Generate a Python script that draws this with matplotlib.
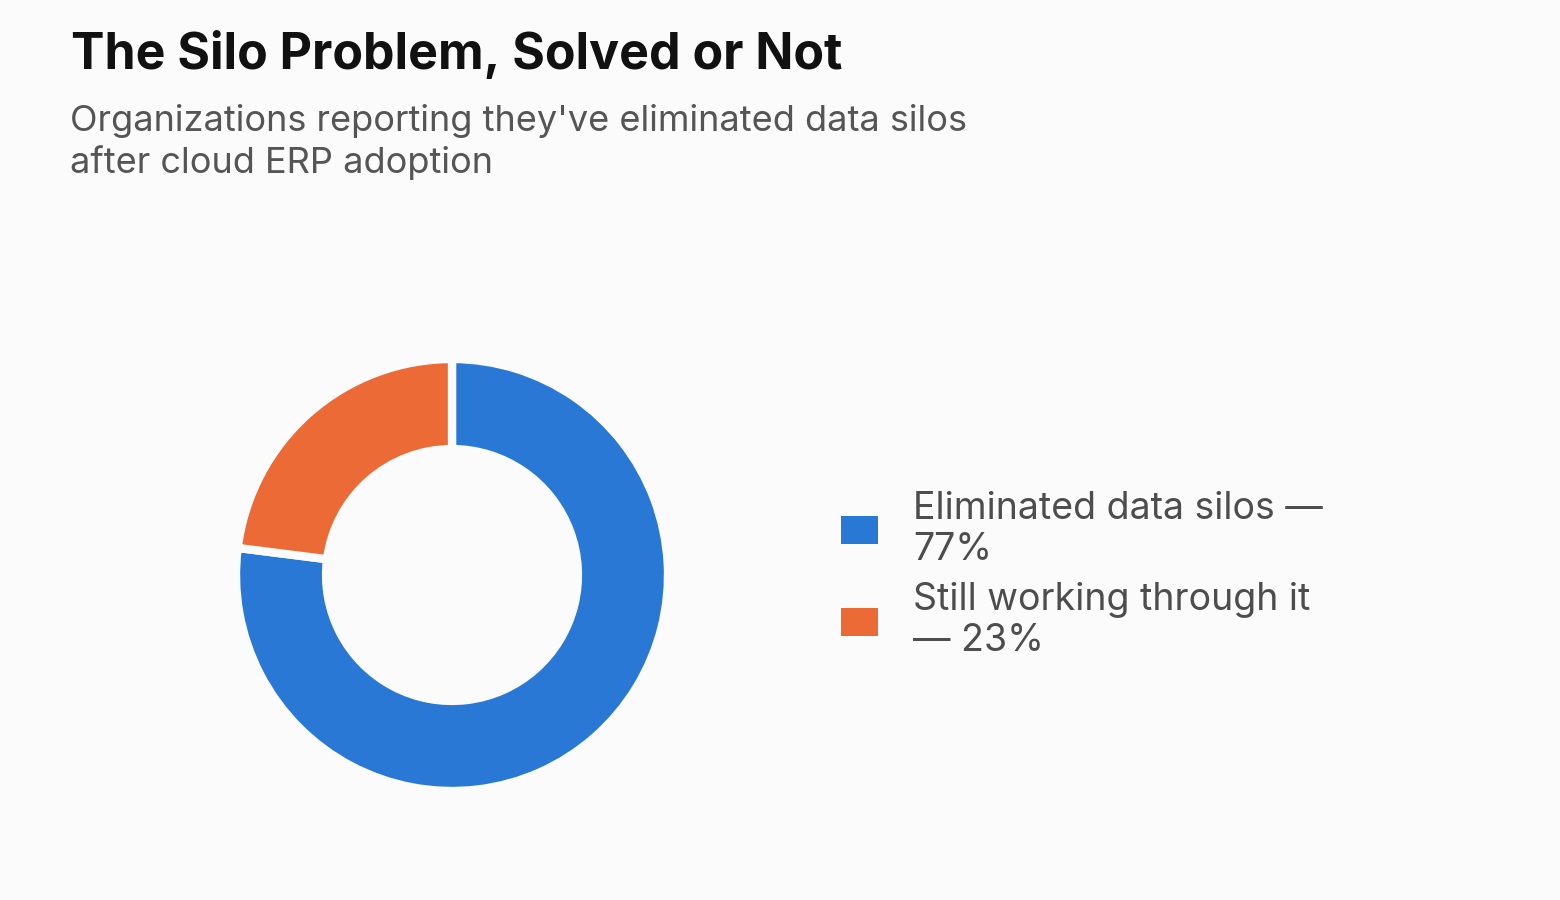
import matplotlib
matplotlib.use("Agg")
import matplotlib.pyplot as plt
from matplotlib.patches import Patch

plt.rcParams['font.family'] = ['Inter', 'DejaVu Sans']

# data
labels = ["Eliminated data silos —\n77%", "Still working through it\n— 23%"]
values = [77, 23]
colors = ["#2a78d6", "#eb6a35"]

title = "The Silo Problem, Solved or Not"
subtitle = "Organizations reporting they've eliminated data silos\nafter cloud ERP adoption"

bg = "#fbfbfb"
W, H = 1560, 900
fig = plt.figure(figsize=(W / 100, H / 100), dpi=100, facecolor=bg)

fig.text(71 / W, 1 - 30 / H, title, fontsize=36, fontweight="bold", color="#111111",
         ha="left", va="top")
fig.text(70 / W, 1 - 104 / H, subtitle, fontsize=26, color="#555555",
         ha="left", va="top", linespacing=1.27)

# donut
r = 216
cx, cy = 452, 900 - 575
ax = fig.add_axes([(cx - r) / W, (cy - r) / H, 2 * r / W, 2 * r / H])
ax.set_facecolor(bg)
wedges, _ = ax.pie(values, colors=colors, startangle=90, counterclock=False,
                   wedgeprops=dict(width=0.417, edgecolor=bg, linewidth=6))
ax.set_xlim(-1, 1)
ax.set_ylim(-1, 1)
ax.set_aspect("equal")
ax.axis("off")

handles = [Patch(facecolor=c, edgecolor="none") for c in colors]
leg = fig.legend(handles, labels, loc="center left", bbox_to_anchor=(841 / W, 1 - 575 / H),
                 frameon=False, fontsize=27, labelcolor="#4d4d4d",
                 handlelength=0.99, handleheight=0.8, handletextpad=0.93,
                 labelspacing=0.4, borderpad=0, borderaxespad=0)
for t in leg.get_texts():
    t.set_linespacing(1.17)

fig.savefig("out.png", dpi=100, facecolor=bg)
